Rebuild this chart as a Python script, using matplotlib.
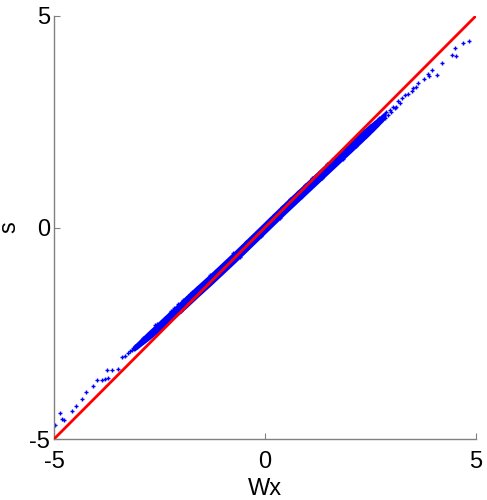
import matplotlib
matplotlib.use("Agg")
import matplotlib.pyplot as plt

plt.rcParams['font.family'] = ['Liberation Sans', 'DejaVu Sans']

# identity reference line
line_x = [-5, 5]
line_y = [-5, 5]

# dense band of samples (edges)
band_x = [-3.1, -2.8, -2.5, -2.2, -1.9, -1.6, -1.3, -1.0, -0.7, -0.4, -0.1,
          0.2, 0.5, 0.8, 1.1, 1.4, 1.7, 2.0, 2.3, 2.6, 2.85]
band_lo = [-2.90, -2.67, -2.43, -2.17, -1.91, -1.63, -1.36, -1.08, -0.80, -0.51, -0.22,
           0.07, 0.36, 0.64, 0.92, 1.20, 1.48, 1.76, 2.04, 2.33, 2.59]
band_hi = [-2.80, -2.51, -2.23, -1.95, -1.67, -1.39, -1.12, -0.84, -0.56, -0.27, 0.02,
           0.31, 0.60, 0.88, 1.16, 1.44, 1.72, 2.00, 2.26, 2.51, 2.71]

# individual samples (tails and band edges)
pts_x = [-4.98, -4.86, -4.82, -4.76, -4.57, -4.49, -4.34, -4.25, -4.08, -3.97,
         -3.86, -3.79, -3.71, -3.74, -3.62, -3.48, -3.38, -3.32, -3.24, -3.16,
         -3.04, -2.96, -2.84, -2.73, -2.61, -2.57, -2.45, -2.38, -2.30, -2.22,
         -2.12, -2.05, -1.95, -1.83, -1.72, -1.60, -1.48, -1.37, -1.22, -1.10,
         -0.95, -0.83, -0.66, -0.52, -0.35, -0.18, 0.05, 0.22, 0.41, 0.60,
         0.78, 0.95, 1.12, 1.30, 1.47, 1.62, 1.80, 1.95, 2.10, 2.22,
         2.35, 2.48, 2.60, 2.70, 2.80, 2.88, 2.96, 3.04, 3.16, 3.26,
         3.32, 3.48, 3.51, 3.59, 3.63, 3.77, 3.89, 3.87, 3.96, 4.07,
         4.19, 4.44, 4.53, 4.50, 4.70, 4.83,
         -2.70, -2.40, -2.00, -1.55, -1.05, -0.60, -0.10, 0.35, 0.85, 1.35,
         1.85, 2.15, 2.45, 2.75, 3.10, 3.40,
         -3.20, -3.12, -3.08, -2.99, -2.91, -2.88, -2.79, -2.66, -2.52, -2.34,
         -2.26, -2.16, -1.88, -1.78, -1.66, -1.42, -1.30, -1.16, -0.90, -0.75,
         -0.45, -0.28, 0.12, 0.30, 0.50, 0.70, 1.05, 1.22, 1.55, 1.70,
         2.02, 2.28, 2.40, 2.55, 2.66, 2.84, 2.92, 3.00, 3.08, 3.20]
pts_y = [-4.67, -4.39, -4.53, -4.55, -4.34, -4.22, -4.05, -3.88, -3.75, -3.61,
         -3.60, -3.58, -3.56, -3.38, -3.37, -3.35, -3.07, -3.04, -2.96, -2.90,
         -2.82, -2.74, -2.66, -2.54, -2.30, -2.27, -2.20, -2.13, -2.10, -1.98,
         -1.93, -1.82, -1.72, -1.63, -1.53, -1.43, -1.33, -1.24, -1.09, -0.98,
         -0.84, -0.74, -0.58, -0.44, -0.27, -0.10, 0.14, 0.30, 0.48, 0.67,
         0.84, 1.00, 1.16, 1.32, 1.49, 1.62, 1.78, 1.92, 2.05, 2.16,
         2.27, 2.40, 2.47, 2.60, 2.67, 2.72, 2.78, 2.86, 2.99, 3.07,
         3.13, 3.23, 3.29, 3.33, 3.41, 3.50, 3.57, 3.63, 3.72, 3.61,
         3.90, 4.08, 4.06, 4.24, 4.37, 4.42,
         -2.55, -2.31, -1.97, -1.52, -1.08, -0.69, -0.21, 0.22, 0.72, 1.17,
         1.63, 1.93, 2.20, 2.51, 2.86, 3.16,
         -2.92, -2.86, -2.80, -2.76, -2.68, -2.62, -2.58, -2.44, -2.30, -2.17,
         -2.02, -1.90, -1.66, -1.57, -1.47, -1.29, -1.13, -1.04, -0.80, -0.60,
         -0.35, -0.20, 0.20, 0.24, 0.42, 0.57, 0.95, 1.10, 1.40, 1.56,
         1.85, 2.08, 2.16, 2.30, 2.42, 2.58, 2.66, 2.74, 2.82, 2.94]

fig = plt.figure(figsize=(4.87, 5.0), dpi=100)
ax = fig.add_axes([0.111, 0.122, 0.866, 0.846])

ax.fill_between(band_x, band_lo, band_hi, color='#0000ff', linewidth=1.4,
                edgecolor='#0000ff', zorder=1)
ax.plot(pts_x, pts_y, linestyle='none', marker='+', markersize=2.8,
        markeredgewidth=1.0, color='#0000ff', zorder=2)
ax.plot(line_x, line_y, color='#ff0000', linewidth=2.0, zorder=3,
        solid_capstyle='butt')

ax.set_xlim(-5, 5)
ax.set_ylim(-5, 5)
ax.set_xticks([-5, 0, 5])
ax.set_yticks([-5, 0, 5])
ax.set_xticklabels(['-5', '0', '5'])
ax.set_yticklabels(['-5', '0', '5'])
for s in ['top', 'right']:
    ax.spines[s].set_visible(False)
for s in ['left', 'bottom']:
    ax.spines[s].set_color('#808080')
    ax.spines[s].set_linewidth(1.0)
ax.tick_params(direction='in', length=4, width=0.8, color='#808080',
               labelsize=17)
ax.tick_params(axis='x', pad=9)
ax.tick_params(axis='y', pad=3)
ax.set_xlabel('Wx', fontsize=17, labelpad=3)
ax.set_ylabel('s', fontsize=17, labelpad=6)

fig.savefig('out.png', dpi=100)
